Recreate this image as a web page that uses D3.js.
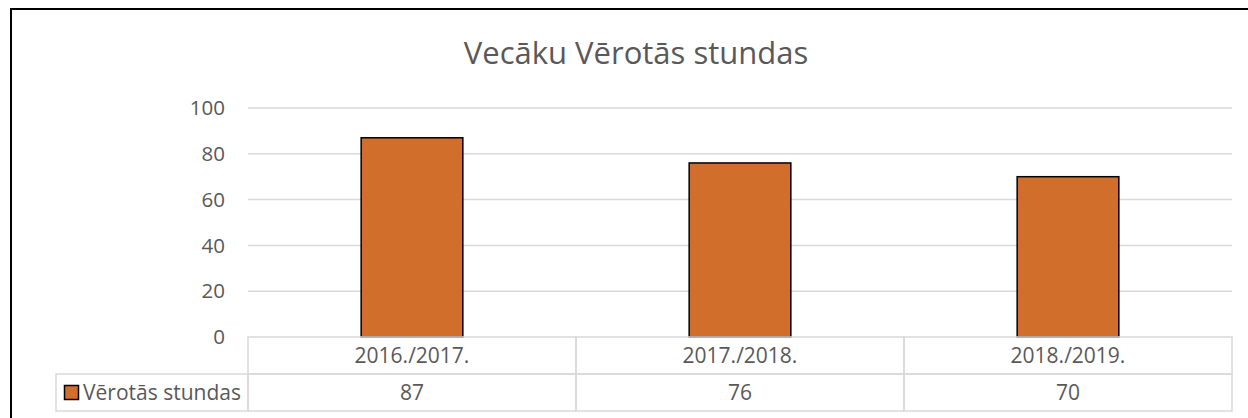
<!DOCTYPE html>
<meta charset="utf-8">
<style>
    body { margin: 0; background: #fff; }
    svg text { font-family: "Open Sans", sans-serif; fill: #595959; }
    .grid line { stroke: #d9d9d9; stroke-width: 1.5; }
    .cell { fill: none; stroke: #d9d9d9; stroke-width: 1.5; }
</style>
<svg id="chart" width="1248" height="418"></svg>
<script src="https://cdn.jsdelivr.net/npm/d3@7/dist/d3.min.js"></script>
<script>

    // data
    var seasons = ["2016./2017.", "2017./2018.", "2018./2019."];
    var observed = [87, 76, 70];
    var yTicks = [0, 20, 40, 60, 80, 100];
    var seriesName = "Vērotās stundas";
    var chartTitle = "Vecāku Vērotās stundas";

    var svg = d3.select("#chart");

    // outer frame (only left and top edges show in the window)
    svg.append("rect")
        .attr("x", 11).attr("y", 9)
        .attr("width", 1300).attr("height", 500)
        .style("fill", "none")
        .style("stroke", "#000")
        .style("stroke-width", 2);

    var x = d3.scaleBand().domain(seasons).range([248, 1232]).padding(0);
    var y = d3.scaleLinear().domain([0, 100]).range([337, 108]);

    svg.append("text")
        .attr("x", 636).attr("y", 64)
        .attr("text-anchor", "middle")
        .style("font-size", "31px")
        .text(chartTitle);

    // gridlines
    svg.append("g").attr("class", "grid")
        .selectAll("line")
        .data(yTicks.filter(d => d > 0))
        .enter().append("line")
        .attr("x1", 248).attr("x2", 1232)
        .attr("y1", d => y(d)).attr("y2", d => y(d));

    // y tick labels
    svg.append("g")
        .selectAll("text")
        .data(yTicks)
        .enter().append("text")
        .attr("x", 225)
        .attr("y", d => y(d))
        .attr("dy", "0.35em")
        .attr("text-anchor", "end")
        .style("font-size", "20.5px")
        .text(d => d);

    // bars, ~31% of each category band
    var barW = x.bandwidth() * 0.31;
    svg.append("g")
        .selectAll("rect")
        .data(observed)
        .enter().append("rect")
        .attr("x", (d, i) => x(seasons[i]) + (x.bandwidth() - barW) / 2)
        .attr("y", d => y(d))
        .attr("width", barW)
        .attr("height", d => y(0) - y(d))
        .style("fill", "#d26e2b")
        .style("stroke", "#000")
        .style("stroke-width", 1.5);

    // data table under the axis
    var rowTop = y(0), rowH = 37;
    var table = svg.append("g");

    table.selectAll("rect.head")
        .data(seasons)
        .enter().append("rect")
        .attr("class", "cell")
        .attr("x", d => x(d)).attr("y", rowTop)
        .attr("width", x.bandwidth()).attr("height", rowH);

    table.selectAll("rect.val")
        .data(seasons)
        .enter().append("rect")
        .attr("class", "cell")
        .attr("x", d => x(d)).attr("y", rowTop + rowH)
        .attr("width", x.bandwidth()).attr("height", rowH);

    table.append("rect")
        .attr("class", "cell")
        .attr("x", 56).attr("y", rowTop + rowH)
        .attr("width", 248 - 56).attr("height", rowH);

    table.selectAll("text.head")
        .data(seasons)
        .enter().append("text")
        .attr("x", d => x(d) + x.bandwidth() / 2)
        .attr("y", rowTop + rowH / 2)
        .attr("dy", "0.35em")
        .attr("text-anchor", "middle")
        .style("font-size", "21px")
        .text(d => d);

    table.selectAll("text.val")
        .data(observed)
        .enter().append("text")
        .attr("x", (d, i) => x(seasons[i]) + x.bandwidth() / 2)
        .attr("y", rowTop + rowH * 1.5)
        .attr("dy", "0.35em")
        .attr("text-anchor", "middle")
        .style("font-size", "21px")
        .text(d => d);

    // legend key + series name
    table.append("rect")
        .attr("x", 64.5).attr("y", 385.5)
        .attr("width", 14).attr("height", 14)
        .style("fill", "#d26e2b")
        .style("stroke", "#000")
        .style("stroke-width", 1.5);

    table.append("text")
        .attr("x", 83)
        .attr("y", rowTop + rowH * 1.5)
        .attr("dy", "0.35em")
        .style("font-size", "21px")
        .text(seriesName);

</script>
